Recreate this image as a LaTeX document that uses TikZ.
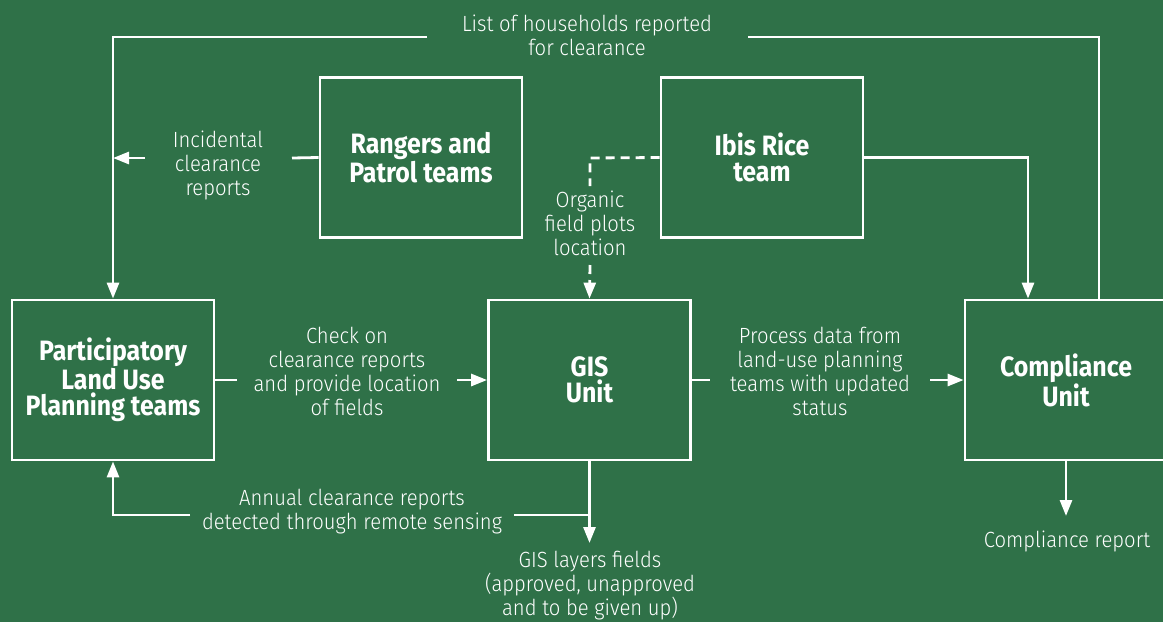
\documentclass[tikz,border=0pt]{standalone}
\usepackage{fontspec}
\newfontfamily\lblfont{Fira Sans Light}[FakeStretch=0.92]
\newfontfamily\boxfont{Fira Sans}[FakeStretch=0.89]
\usetikzlibrary{arrows.meta}
\definecolor{bggreen}{RGB}{47,113,72}
\tikzset{
  conn/.style={draw=white, line width=2.8pt},
  arr/.style={conn, -{Triangle[length=16pt,width=12pt]}},
  box/.style={draw=white, line width=2.8pt, minimum width=202pt, minimum height=160pt,
    inner sep=0pt, align=center, text=white, font=\boxfont\bfseries\fontsize{28}{26.5}\selectfont},
  lbl/.style={inner sep=0pt, align=center, text=white, font=\lblfont\fontsize{22}{24}\selectfont}
}
\begin{document}
\begin{tikzpicture}[x=1pt,y=-1pt]
\fill[bggreen] (0,0) rectangle (1163,622);
\useasboundingbox (0,0) rectangle (1163,622);

\node[box] (rang) at (421,157.5) {Rangers and\\Patrol teams};
\node[box] (ibis) at (762,157.5) {Ibis Rice\\team};
\node[box] (plup) at (113,380) {Participatory\\Land Use\\Planning teams};
\node[box] (gis) at (589.5,380) {GIS\\Unit};
\node[box] (comp) at (1066,380) {Compliance\\Unit};

\node[lbl] (ltop) at (587,35) {List of households reported\\for clearance};
\node[lbl] (linc) at (218,165) {Incidental\\clearance\\reports};
\node[lbl] (lorg) at (590,223) {Organic\\field plots\\location};
\node[lbl] (lchk) at (347,371) {Check on\\clearance reports\\and provide location\\of fields};
\node[lbl] (lproc) at (820,371) {Process data from\\land-use planning\\teams with updated\\status};
\node[lbl] (lann) at (352,512) {Annual clearance reports\\detected through remote sensing};
\node[lbl] (lgis) at (590,586) {GIS layers fields\\(approved, unapproved\\and to be given up)};
\node[lbl] (lcomp) at (1067,541) {Compliance report};

\coordinate (tl) at (113,37);
\coordinate (tr) at (1099,37);
\coordinate (tgl) at (427,37);
\coordinate (tgr) at (748,37);
\coordinate (ra) at (292,158);
\coordinate (rb) at (145,158);
\coordinate (rc) at (113,158);
\coordinate (oa) at (590,158);
\coordinate (ob) at (590,186);
\coordinate (oc) at (590,265);
\coordinate (ca) at (237,380);
\coordinate (cb) at (457,380);
\coordinate (pa) at (710,380);
\coordinate (pb) at (930,380);
\coordinate (ga) at (589.5,543);
\coordinate (aa) at (589.5,515);
\coordinate (ab) at (514,515);
\coordinate (ac) at (190,515);
\coordinate (ad) at (113,515);
\coordinate (cr) at (1066,516);

% top loop
\draw[conn] ([xshift=33pt]comp.north) |- (tgr);
\draw[arr] (tgl) -- (tl) -- (plup.north);
% rangers
\draw[conn] (rang.west) -- (ra);
\draw[arr] (rb) -- (rc);
% ibis dashed
\draw[conn, dash pattern=on 9pt off 6pt] (ibis.west) -- (oa) -- (ob);
\draw[arr, dash pattern=on 9pt off 6pt] (oc) -- (gis.north);
% ibis to compliance
\draw[arr] (ibis.east) -| ([xshift=-38pt]comp.north);
% plup to gis
\draw[conn] (plup.east) -- (ca);
\draw[arr] (cb) -- (gis.west);
% gis to compliance
\draw[conn] (gis.east) -- (pa);
\draw[arr] (pb) -- (comp.west);
% gis down
\draw[arr] (gis.south) -- (ga);
% annual
\draw[conn] (aa) -- (ab);
\draw[arr] (ac) -- (ad) -- (plup.south);
% compliance report
\draw[arr] (comp.south) -- (cr);
\end{tikzpicture}
\end{document}
